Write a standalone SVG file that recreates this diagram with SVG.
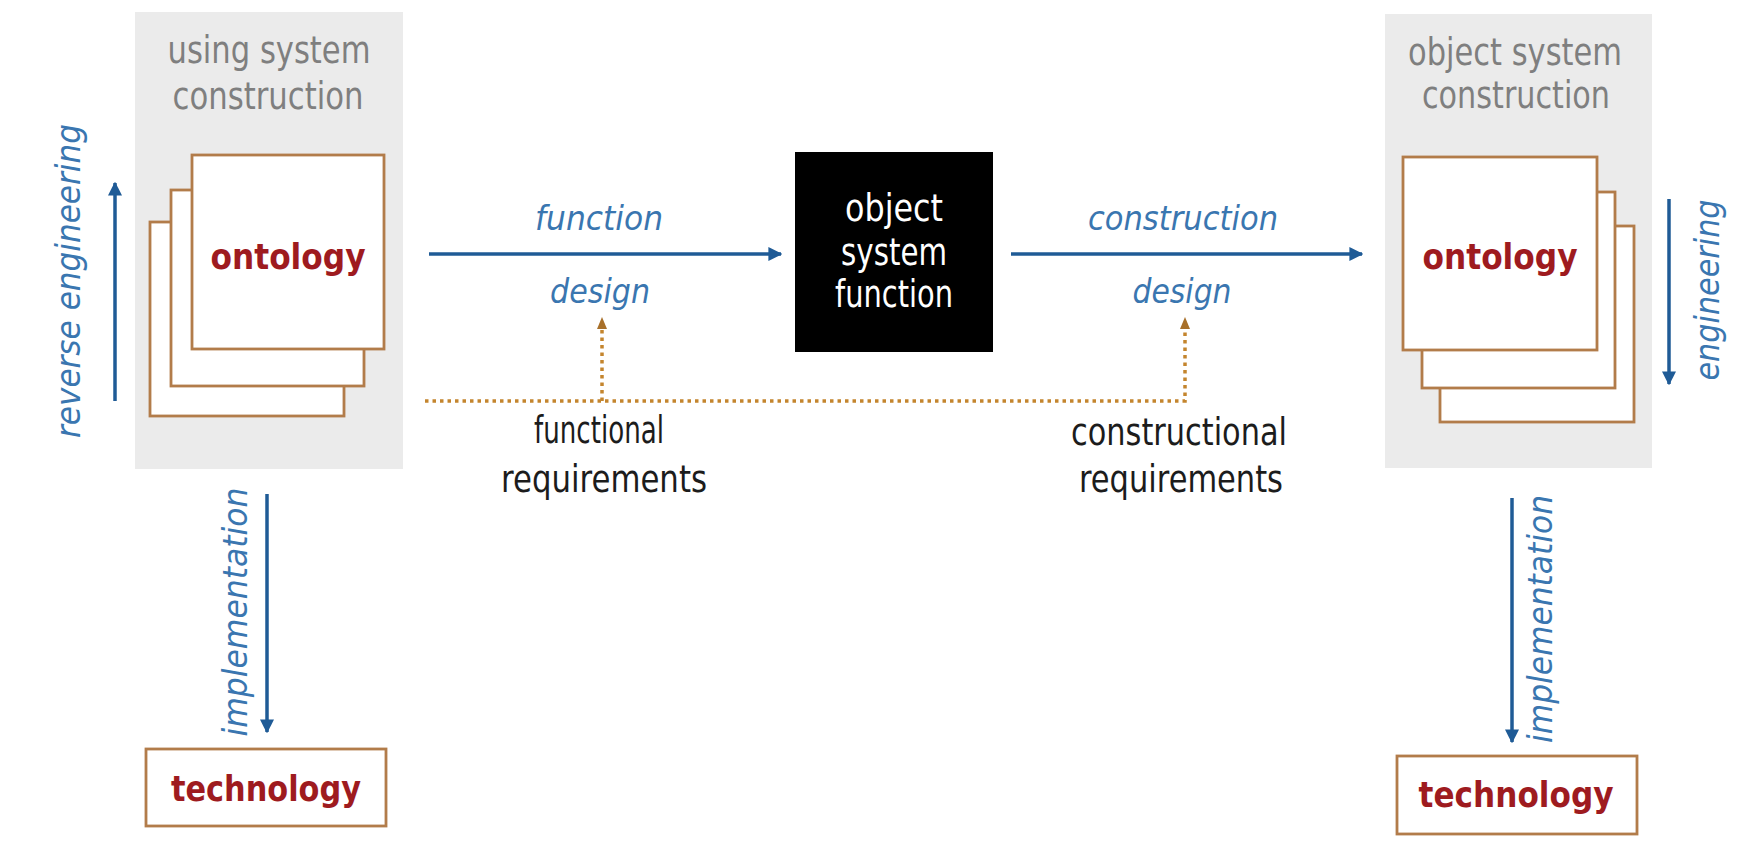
<svg xmlns="http://www.w3.org/2000/svg" width="1761" height="843" viewBox="0 0 1761 843">
<defs>
<style>
.panel{fill:#ebebeb;}
.sheet{fill:#ffffff;stroke:#b27c4a;stroke-width:2.8;}
.title{font-family:"DejaVu Sans",Verdana,sans-serif;font-size:37px;fill:#7f7f7f;text-anchor:middle;}
.onto{font-family:"DejaVu Sans",Verdana,sans-serif;font-size:36px;font-weight:bold;fill:#9e1b1f;text-anchor:middle;}
.lbl{font-family:"DejaVu Sans",Verdana,sans-serif;font-size:33px;font-style:italic;fill:#3a76b0;text-anchor:middle;}
.req{font-family:"DejaVu Sans",Verdana,sans-serif;font-size:37px;fill:#1c1c1c;text-anchor:middle;}
.wht{font-family:"DejaVu Sans",Verdana,sans-serif;font-size:37px;fill:#ffffff;text-anchor:middle;}
.arr{stroke:#1f5b96;stroke-width:3.5;fill:none;marker-end:url(#ab);}
.dot{stroke:#c4852e;stroke-width:3.5;stroke-dasharray:3.5 4;fill:none;}
</style>
<marker id="ab" viewBox="0 0 10 10" refX="9" refY="5" markerWidth="4" markerHeight="4" orient="auto">
<path d="M0,0 L10,5 L0,10 z" fill="#1f5b96"/>
</marker>
</defs>
<rect width="1761" height="843" fill="#ffffff"/>

<g id="using-system">
<rect class="panel" x="135" y="12" width="268" height="457"/>
<text class="title" x="269" y="63" textLength="203" lengthAdjust="spacingAndGlyphs">using system</text>
<text class="title" x="268" y="109" textLength="191" lengthAdjust="spacingAndGlyphs">construction</text>
<rect class="sheet" x="150" y="222" width="194" height="194"/>
<rect class="sheet" x="171" y="190" width="193" height="196"/>
<rect class="sheet" x="192" y="155" width="192" height="194"/>
<text class="onto" x="288" y="269" textLength="155" lengthAdjust="spacingAndGlyphs">ontology</text>
</g>

<g id="object-system">
<rect class="panel" x="1385" y="14" width="267" height="454"/>
<text class="title" x="1515" y="65" textLength="214" lengthAdjust="spacingAndGlyphs">object system</text>
<text class="title" x="1516" y="108" textLength="188" lengthAdjust="spacingAndGlyphs">construction</text>
<rect class="sheet" x="1440" y="226" width="194" height="196"/>
<rect class="sheet" x="1422" y="192" width="193" height="196"/>
<rect class="sheet" x="1403" y="157" width="194" height="193"/>
<text class="onto" x="1500" y="269" textLength="155" lengthAdjust="spacingAndGlyphs">ontology</text>
</g>

<g id="object-system-function">
<rect x="795" y="152" width="198" height="200" fill="#000000"/>
<text class="wht" x="894" y="221" textLength="98" lengthAdjust="spacingAndGlyphs">object</text>
<text class="wht" x="894" y="265" textLength="106" lengthAdjust="spacingAndGlyphs">system</text>
<text class="wht" x="894" y="307" textLength="118" lengthAdjust="spacingAndGlyphs">function</text>
</g>

<g id="technology-left">
<rect class="sheet" x="146" y="749" width="240" height="77"/>
<text class="onto" x="266" y="801" textLength="190" lengthAdjust="spacingAndGlyphs">technology</text>
</g>

<g id="technology-right">
<rect class="sheet" x="1397" y="756" width="240" height="78"/>
<text class="onto" x="1516" y="807" textLength="195" lengthAdjust="spacingAndGlyphs">technology</text>
</g>

<g id="connectors">
<line class="arr" x1="115" y1="401" x2="115" y2="183"/>
<line class="arr" x1="267" y1="494" x2="267" y2="732"/>
<line class="arr" x1="429" y1="254" x2="781" y2="254"/>
<line class="arr" x1="1011" y1="254" x2="1362" y2="254"/>
<line class="arr" x1="1669" y1="199" x2="1669" y2="384"/>
<line class="arr" x1="1512" y1="498" x2="1512" y2="742"/>
<path class="dot" d="M425,401 H1185 V326"/>
<path class="dot" d="M602,401 V326"/>
<path d="M597,329 L602,317 L607,329 z" fill="#a8702a"/>
<path d="M1180,329 L1185,317 L1190,329 z" fill="#a8702a"/>
</g>

<g id="labels">
<text class="lbl" transform="translate(80,281) rotate(-90)" x="0" y="0" textLength="314" lengthAdjust="spacingAndGlyphs">reverse engineering</text>
<text class="lbl" transform="translate(1719,290) rotate(-90)" x="0" y="0" textLength="181" lengthAdjust="spacingAndGlyphs">engineering</text>
<text class="lbl" transform="translate(247,612) rotate(-90)" x="0" y="0" textLength="249" lengthAdjust="spacingAndGlyphs">implementation</text>
<text class="lbl" transform="translate(1552,619) rotate(-90)" x="0" y="0" textLength="248" lengthAdjust="spacingAndGlyphs">implementation</text>
<text class="lbl" x="599" y="230" textLength="128" lengthAdjust="spacingAndGlyphs">function</text>
<text class="lbl" x="600" y="303" textLength="100" lengthAdjust="spacingAndGlyphs">design</text>
<text class="lbl" x="1183" y="230" textLength="190" lengthAdjust="spacingAndGlyphs">construction</text>
<text class="lbl" x="1182" y="303" textLength="99" lengthAdjust="spacingAndGlyphs">design</text>
<text class="req" x="599" y="443" textLength="130" lengthAdjust="spacingAndGlyphs">functional</text>
<text class="req" x="604" y="492" textLength="206" lengthAdjust="spacingAndGlyphs">requirements</text>
<text class="req" x="1179" y="445" textLength="216" lengthAdjust="spacingAndGlyphs">constructional</text>
<text class="req" x="1181" y="492" textLength="204" lengthAdjust="spacingAndGlyphs">requirements</text>
</g>
</svg>
